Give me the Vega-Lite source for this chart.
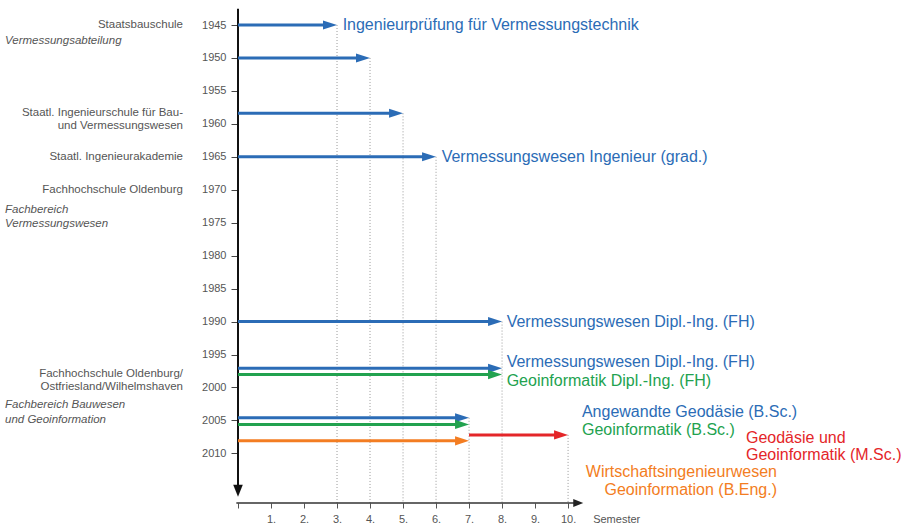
{
  "$schema": "https://vega.github.io/schema/vega-lite/v6.json",
  "width": 674,
  "height": 495,
  "autosize": "none",
  "padding": {"left": 238, "top": 8, "right": 0, "bottom": 22},
  "background": "white",
  "config": {"view": {"stroke": null}, "font": "Liberation Sans"},
  "datasets": {
    "arrows": [
      {"year": 1945, "start": 0, "end": 3, "track": "Vermessung"},
      {"year": 1950, "start": 0, "end": 4, "track": "Vermessung"},
      {"year": 1958.4, "start": 0, "end": 5, "track": "Vermessung"},
      {"year": 1965, "start": 0, "end": 6, "track": "Vermessung"},
      {"year": 1990, "start": 0, "end": 8, "track": "Vermessung"},
      {"year": 1997.1, "start": 0, "end": 8, "track": "Vermessung"},
      {"year": 1998.05, "start": 0, "end": 8, "track": "Geoinformatik"},
      {"year": 2004.6, "start": 0, "end": 7, "track": "Vermessung"},
      {"year": 2005.6, "start": 0, "end": 7, "track": "Geoinformatik"},
      {"year": 2008.1, "start": 0, "end": 7, "track": "Wirtschaft"},
      {"year": 2007.2, "start": 7, "end": 10, "track": "Master"}
    ],
    "guides": [
      {"sem": 3, "from": 1945},
      {"sem": 4, "from": 1950},
      {"sem": 5, "from": 1958.4},
      {"sem": 6, "from": 1965},
      {"sem": 7, "from": 2004.6},
      {"sem": 8, "from": 1990},
      {"sem": 10, "from": 2007.2}
    ],
    "institutions": [
      {"text": "Staatsbauschule", "year": 1945, "kind": "school"},
      {"text": "Vermessungsabteilung", "year": 1947.5, "kind": "department"},
      {"text": "Staatl. Ingenieurschule für Bau-", "year": 1958.3, "kind": "school"},
      {"text": "und Vermessungswesen", "year": 1960.3, "kind": "school"},
      {"text": "Staatl. Ingenieurakademie", "year": 1965, "kind": "school"},
      {"text": "Fachhochschule Oldenburg", "year": 1970, "kind": "school"},
      {"text": "Fachbereich", "year": 1973, "kind": "department"},
      {"text": "Vermessungswesen", "year": 1975.2, "kind": "department"},
      {"text": "Fachhochschule Oldenburg/", "year": 1997.9, "kind": "school"},
      {"text": "Ostfriesland/Wilhelmshaven", "year": 2000, "kind": "school"},
      {"text": "Fachbereich Bauwesen", "year": 2002.7, "kind": "department"},
      {"text": "und Geoinformation", "year": 2004.9, "kind": "department"}
    ],
    "programs": [
      {"text": "Ingenieurprüfung für Vermessungstechnik", "year": 1945, "sem": 3.17, "track": "Vermessung"},
      {"text": "Vermessungswesen Ingenieur (grad.)", "year": 1965, "sem": 6.17, "track": "Vermessung"},
      {"text": "Vermessungswesen Dipl.-Ing. (FH)", "year": 1990.1, "sem": 8.14, "track": "Vermessung"},
      {"text": "Vermessungswesen Dipl.-Ing. (FH)", "year": 1996.1, "sem": 8.14, "track": "Vermessung"},
      {"text": "Geoinformatik Dipl.-Ing. (FH)", "year": 1999, "sem": 8.14, "track": "Geoinformatik"},
      {"text": "Angewandte Geodäsie (B.Sc.)", "year": 2003.7, "sem": 10.42, "track": "Vermessung"},
      {"text": "Geoinformatik (B.Sc.)", "year": 2006.5, "sem": 10.42, "track": "Geoinformatik"},
      {"text": "Geodäsie und", "year": 2007.6, "sem": 15.39, "track": "Master"},
      {"text": "Geoinformatik (M.Sc.)", "year": 2010.25, "sem": 15.39, "track": "Master"},
      {"text": "Wirtschaftsingenieurwesen", "year": 2012.8, "sem": 16.33, "track": "Wirtschaft"},
      {"text": "Geoinformation (B.Eng.)", "year": 2015.6, "sem": 16.33, "track": "Wirtschaft"}
    ]
  },
  "layer": [
    {
      "data": {"name": "guides"},
      "mark": {"type": "rule", "color": "#9a9a9a", "strokeWidth": 1, "strokeDash": [1, 2]},
      "encoding": {
        "x": {
          "field": "sem", "type": "quantitative", "title": null,
          "scale": {"domain": [0, 20.42], "nice": false, "zero": false},
          "axis": {
            "values": [0, 1, 2, 3, 4, 5, 6, 7, 8, 9, 10],
            "tickCount": 30,
            "domain": false, "grid": false, "tickSize": 5, "tickColor": "#555", "tickWidth": 1,
            "labelExpr": "datum.value == 0 ? '' : datum.value + '.'",
            "labelFontSize": 11, "labelColor": "#555", "labelPadding": 5, "labelFlush": false,
            "labelOverlap": false, "labelFont": "Liberation Sans", "title": null
          }
        },
        "y": {
          "field": "from", "type": "quantitative", "title": null,
          "scale": {"domain": [1942.42, 2017.53], "reverse": true, "nice": false, "zero": false},
          "axis": {
            "values": [1945, 1950, 1955, 1960, 1965, 1970, 1975, 1980, 1985, 1990, 1995, 2000, 2005, 2010],
            "tickCount": 30,
            "format": "d",
            "domain": false, "grid": false, "tickSize": 7, "tickColor": "#444", "tickWidth": 1,
            "labelFontSize": 11, "labelColor": "#555", "labelPadding": 5, "labelFlush": false,
            "labelOverlap": false, "labelFont": "Liberation Sans", "title": null
          }
        },
        "y2": {"datum": 2017.53}
      }
    },
    {
      "data": {"values": [{}]},
      "mark": {"type": "rule", "color": "#111", "strokeWidth": 2},
      "encoding": {"x": {"datum": 0}, "y": {"datum": 1942.55}, "y2": {"datum": 2015.5}}
    },
    {
      "data": {"values": [{}]},
      "mark": {"type": "point", "shape": "M-0.8,-2L0,0L0.8,-2Z", "filled": true, "color": "#111", "opacity": 1, "size": 144, "strokeWidth": 0},
      "encoding": {"x": {"datum": 0}, "y": {"datum": 2016.6}}
    },
    {
      "data": {"values": [{}]},
      "mark": {"type": "rule", "color": "#333", "strokeWidth": 1.5},
      "encoding": {"x": {"datum": -0.05}, "x2": {"datum": 10.3}, "y": {"datum": 2017.53}}
    },
    {
      "data": {"values": [{}]},
      "mark": {"type": "point", "shape": "M-2,-0.8L0,0L-2,0.8Z", "filled": true, "color": "#222", "opacity": 1, "size": 100, "strokeWidth": 0},
      "encoding": {"x": {"datum": 10.46}, "y": {"datum": 2017.53}}
    },
    {
      "data": {"values": [{}]},
      "mark": {"type": "text", "text": "Semester", "align": "left", "baseline": "middle", "fontSize": 11, "color": "#555"},
      "encoding": {"x": {"datum": 10.76}, "y": {"datum": 2020.1}}
    },
    {
      "data": {"name": "arrows"},
      "mark": {"type": "rule", "strokeWidth": 3, "x2Offset": -8},
      "encoding": {
        "x": {"field": "start", "type": "quantitative", "title": null},
        "x2": {"field": "end"},
        "y": {"field": "year", "type": "quantitative", "title": null},
        "color": {
          "field": "track", "type": "nominal", "legend": null,
          "scale": {"domain": ["Vermessung", "Geoinformatik", "Wirtschaft", "Master"], "range": ["#2b6cb6", "#22a24f", "#f37d22", "#e42629"]}
        }
      }
    },
    {
      "data": {"name": "arrows"},
      "mark": {"type": "point", "shape": "M-2,-0.65L0,0L-2,0.65Z", "filled": true, "opacity": 1, "size": 196, "strokeWidth": 0},
      "encoding": {
        "x": {"field": "end", "type": "quantitative", "title": null},
        "y": {"field": "year", "type": "quantitative", "title": null},
        "color": {"field": "track", "type": "nominal", "legend": null}
      }
    },
    {
      "data": {"name": "institutions"},
      "transform": [{"filter": "datum.kind == 'school'"}],
      "mark": {"type": "text", "align": "right", "baseline": "middle", "dx": -55, "fontSize": 11.5, "color": "#555"},
      "encoding": {
        "x": {"datum": 0},
        "y": {"field": "year", "type": "quantitative", "title": null},
        "text": {"field": "text"}
      }
    },
    {
      "data": {"name": "institutions"},
      "transform": [{"filter": "datum.kind == 'department'"}],
      "mark": {"type": "text", "align": "left", "baseline": "middle", "dx": -233, "fontSize": 11.5, "fontStyle": "italic", "color": "#555"},
      "encoding": {
        "x": {"datum": 0},
        "y": {"field": "year", "type": "quantitative", "title": null},
        "text": {"field": "text"}
      }
    },
    {
      "data": {"name": "programs"},
      "transform": [{"filter": "datum.track != 'Wirtschaft'"}],
      "mark": {"type": "text", "align": "left", "baseline": "middle", "fontSize": 16},
      "encoding": {
        "x": {"field": "sem", "type": "quantitative", "title": null},
        "y": {"field": "year", "type": "quantitative", "title": null},
        "text": {"field": "text"},
        "color": {"field": "track", "type": "nominal", "legend": null}
      }
    },
    {
      "data": {"name": "programs"},
      "transform": [{"filter": "datum.track == 'Wirtschaft'"}],
      "mark": {"type": "text", "align": "right", "baseline": "middle", "fontSize": 16},
      "encoding": {
        "x": {"field": "sem", "type": "quantitative", "title": null},
        "y": {"field": "year", "type": "quantitative", "title": null},
        "text": {"field": "text"},
        "color": {"field": "track", "type": "nominal", "legend": null}
      }
    }
  ]
}
